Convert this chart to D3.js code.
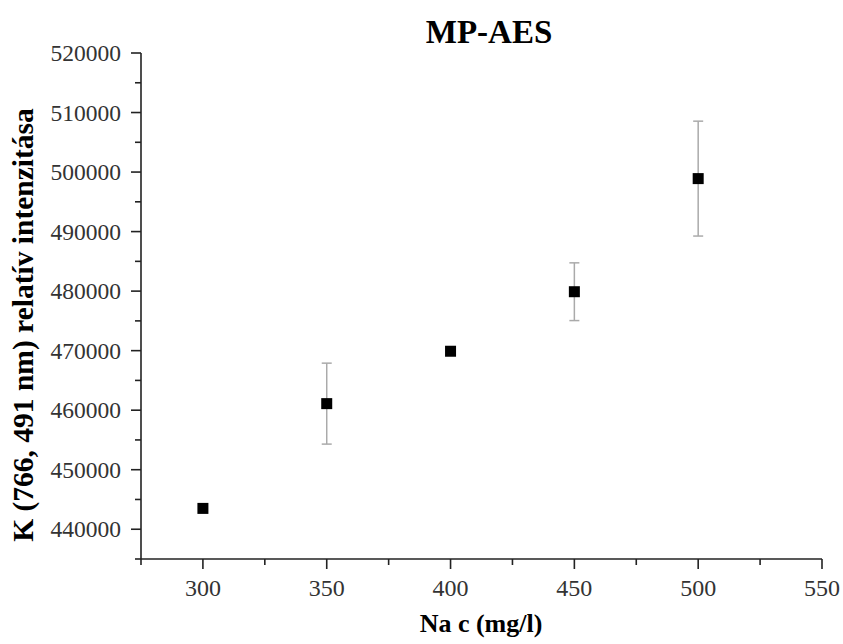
<!DOCTYPE html>
<html><head><meta charset="utf-8">
<script src="https://cdn.jsdelivr.net/npm/d3@7"></script>
<style>body{margin:0;background:#fff} text{font-family:"Liberation Serif","Times New Roman",serif}</style>
</head><body>
<svg id="c" width="843" height="644"></svg>
<script>
const concentrations = [300, 350, 400, 450, 500];
const intensities = [443500, 461100, 469900, 479900, 498900];
const errors = [0, 6800, 0, 4850, 9650];
const xTicks = [300, 350, 400, 450, 500, 550];
const yTicks = [440000, 450000, 460000, 470000, 480000, 490000, 500000, 510000, 520000];
const title = "MP-AES";
const xLabel = "Na c (mg/l)";
const yLabel = "K (766, 491 nm) relatív intenzitása";

const svg = d3.select("#c");
const L = 141, R = 822, T = 53, B = 559;
const x = d3.scaleLinear().domain([275, 550]).range([L, R]);
const y = d3.scaleLinear().domain([435000, 520000]).range([B, T]);

// axes lines
svg.append("line").attr("x1", L).attr("x2", L).attr("y1", T).attr("y2", B).attr("stroke", "#222").attr("stroke-width", 1.6);
svg.append("line").attr("x1", L).attr("x2", R).attr("y1", B).attr("y2", B).attr("stroke", "#222").attr("stroke-width", 1.6);

// x ticks
const xMinor = d3.range(275, 551, 25).filter(v => !xTicks.includes(v));
svg.selectAll(".xt").data(xTicks).join("line").attr("x1", d => x(d)).attr("x2", d => x(d))
  .attr("y1", B).attr("y2", B + 10).attr("stroke", "#222").attr("stroke-width", 1.6);
svg.selectAll(".xm").data(xMinor).join("line").attr("x1", d => x(d)).attr("x2", d => x(d))
  .attr("y1", B).attr("y2", B + 6).attr("stroke", "#222").attr("stroke-width", 1.6);
svg.selectAll(".xl").data(xTicks).join("text").attr("x", d => x(d)).attr("y", B + 37)
  .attr("text-anchor", "middle").attr("font-size", 24).attr("fill", "#333").text(d => d);

// y ticks
const yMinor = d3.range(435000, 520001, 5000).filter(v => !yTicks.includes(v));
svg.selectAll(".yt").data(yTicks).join("line").attr("x1", L - 10).attr("x2", L)
  .attr("y1", d => y(d)).attr("y2", d => y(d)).attr("stroke", "#222").attr("stroke-width", 1.6);
svg.selectAll(".ym").data(yMinor).join("line").attr("x1", L - 6).attr("x2", L)
  .attr("y1", d => y(d)).attr("y2", d => y(d)).attr("stroke", "#222").attr("stroke-width", 1.6);
svg.selectAll(".yl").data(yTicks).join("text").attr("x", L - 20).attr("y", d => y(d) + 8)
  .attr("text-anchor", "end").attr("font-size", 23.5).attr("fill", "#333").text(d => d);

// error bars
const data = concentrations.map((c, i) => ({c, v: intensities[i], e: errors[i]}));
const eb = svg.append("g").attr("stroke", "#aaa").attr("stroke-width", 1.5);
data.filter(d => d.e > 0).forEach(d => {
  eb.append("line").attr("x1", x(d.c)).attr("x2", x(d.c)).attr("y1", y(d.v + d.e)).attr("y2", y(d.v - d.e));
  eb.append("line").attr("x1", x(d.c) - 5).attr("x2", x(d.c) + 5).attr("y1", y(d.v + d.e)).attr("y2", y(d.v + d.e));
  eb.append("line").attr("x1", x(d.c) - 5).attr("x2", x(d.c) + 5).attr("y1", y(d.v - d.e)).attr("y2", y(d.v - d.e));
});

// points
svg.selectAll(".pt").data(data).join("rect").attr("x", d => x(d.c) - 5.5).attr("y", d => y(d.v) - 5.5)
  .attr("width", 11).attr("height", 11).attr("fill", "#000");

// titles
svg.append("text").attr("x", 489).attr("y", 43).attr("text-anchor", "middle")
  .attr("font-weight", "bold").attr("font-size", 33).attr("fill", "#000").text(title);
svg.append("text").attr("x", 481).attr("y", 632).attr("text-anchor", "middle")
  .attr("font-weight", "bold").attr("font-size", 26).attr("fill", "#000").text(xLabel);
svg.append("text").attr("transform", "translate(33,325) rotate(-90)").attr("text-anchor", "middle")
  .attr("font-weight", "bold").attr("font-size", 29.5).attr("fill", "#000").text(yLabel);
</script>
</body></html>
